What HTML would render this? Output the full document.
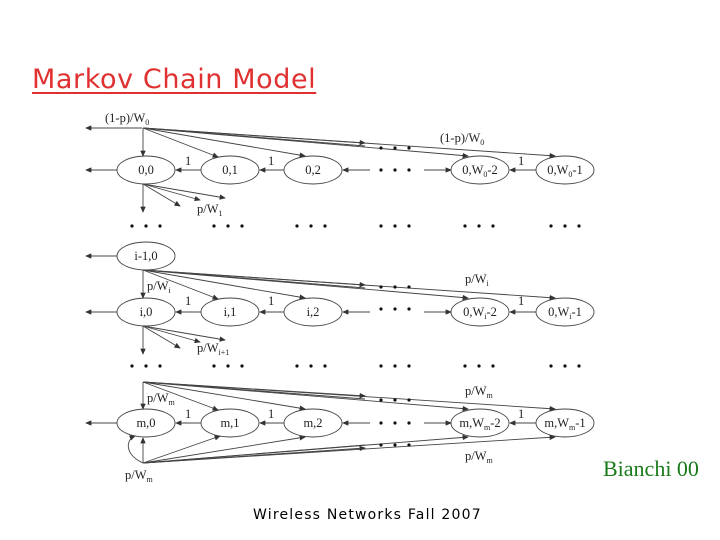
<!DOCTYPE html>
<html><head><meta charset="utf-8"><style>
body{margin:0;width:720px;height:540px;background:#fff;overflow:hidden;position:relative}
.t{position:absolute;left:32px;top:64px;font-family:"DejaVu Sans",sans-serif;font-size:27px;color:#e03030;text-decoration:underline;text-decoration-thickness:2px;text-underline-offset:4px;letter-spacing:0.6px}
.f{position:absolute;left:253px;top:507px;font-family:"DejaVu Sans",sans-serif;font-size:14px;letter-spacing:1.2px;color:#000}
.b{position:absolute;left:603px;top:456px;font-family:"Liberation Serif",serif;font-size:22px;color:#1a7a1a}
</style></head><body>
<div class="t">Markov Chain Model</div>
<svg width="720" height="540" style="position:absolute;left:0;top:0" font-family="Liberation Serif,serif" font-size="12.5">
<defs><marker id="a" markerWidth="7" markerHeight="6" refX="6" refY="3" orient="auto"><path d="M0,0L7,3L0,6z" fill="#333"/></marker>
<g id="d"><circle cx="0" cy="0" r="1.6"/><circle cx="14" cy="0" r="1.6"/><circle cx="28" cy="0" r="1.6"/></g></defs>
<g fill="none" stroke="#444" stroke-width="0.9">
<ellipse cx="146" cy="170" rx="29" ry="14"/><ellipse cx="230" cy="170" rx="29" ry="14"/><ellipse cx="313" cy="170" rx="29" ry="14"/>
<ellipse cx="480" cy="170" rx="29" ry="14"/><ellipse cx="565" cy="170" rx="29" ry="14"/>
<ellipse cx="146" cy="256" rx="29" ry="14"/>
<ellipse cx="146" cy="312" rx="29" ry="14"/><ellipse cx="230" cy="312" rx="29" ry="14"/><ellipse cx="313" cy="312" rx="29" ry="14"/>
<ellipse cx="480" cy="312" rx="29" ry="14"/><ellipse cx="565" cy="312" rx="29" ry="14"/>
<ellipse cx="146" cy="423" rx="29" ry="14"/><ellipse cx="230" cy="423" rx="29" ry="14"/><ellipse cx="313" cy="423" rx="29" ry="14"/>
<ellipse cx="480" cy="423" rx="29" ry="14"/><ellipse cx="565" cy="423" rx="29" ry="14"/>
<g marker-end="url(#a)">
<path d="M142,128H86"/><path d="M117,170H86"/><path d="M117,256H86"/><path d="M117,312H86"/><path d="M117,423H86"/>
<path d="M201,170H176"/><path d="M284,170H260"/><path d="M370,170H343"/><path d="M424,170H451"/><path d="M536,170H510"/>
<path d="M201,312H176"/><path d="M284,312H260"/><path d="M370,312H343"/><path d="M424,312H451"/><path d="M536,312H510"/>
<path d="M201,423H176"/><path d="M284,423H260"/><path d="M370,423H343"/><path d="M424,423H451"/><path d="M536,423H510"/>
<path d="M143,128V156"/><path d="M143,128L218,157"/><path d="M143,128L305,156"/><path d="M143,128L468,156"/><path d="M143,128L555,156"/><path d="M143,128L365,143"/>
<path d="M143,184V212"/><path d="M143,184L180,206"/><path d="M143,184L200,200"/><path d="M143,184L225,198"/>
<path d="M143,270V298"/><path d="M143,270L218,299"/><path d="M143,270L305,298"/><path d="M143,270L468,298"/><path d="M143,270L555,298"/><path d="M143,270L365,285"/>
<path d="M143,326V354"/><path d="M143,326L180,348"/><path d="M143,326L200,342"/><path d="M143,326L225,340"/>
<path d="M143,382V409"/><path d="M143,382L218,410"/><path d="M143,382L305,409"/><path d="M143,382L468,409"/><path d="M143,382L555,409"/><path d="M143,382L365,396"/>
<path d="M143,463V438"/><path d="M143,463L220,436"/><path d="M143,463L305,437"/><path d="M143,463L468,437"/><path d="M143,463L555,437"/><path d="M143,463L365,448"/>
<path d="M143,463C125,455 125,440 135,436"/>
</g>
<path d="M143,128L365,146"/><path d="M143,270L365,288"/><path d="M143,382L365,399"/><path d="M143,463L365,445"/>
</g>
<g fill="#222">
<text x="146" y="174" text-anchor="middle">0,0</text><text x="230" y="174" text-anchor="middle">0,1</text><text x="313" y="174" text-anchor="middle">0,2</text>
<text x="480" y="174" text-anchor="middle">0,W<tspan font-size="8" dy="3">0</tspan><tspan dy="-3">-2</tspan></text>
<text x="565" y="174" text-anchor="middle">0,W<tspan font-size="8" dy="3">0</tspan><tspan dy="-3">-1</tspan></text>
<text x="146" y="260" text-anchor="middle">i-1,0</text>
<text x="146" y="316" text-anchor="middle">i,0</text><text x="230" y="316" text-anchor="middle">i,1</text><text x="313" y="316" text-anchor="middle">i,2</text>
<text x="480" y="316" text-anchor="middle">0,W<tspan font-size="8" dy="3">i</tspan><tspan dy="-3">-2</tspan></text>
<text x="565" y="316" text-anchor="middle">0,W<tspan font-size="8" dy="3">i</tspan><tspan dy="-3">-1</tspan></text>
<text x="146" y="427" text-anchor="middle">m,0</text><text x="230" y="427" text-anchor="middle">m,1</text><text x="313" y="427" text-anchor="middle">m,2</text>
<text x="480" y="427" text-anchor="middle">m,W<tspan font-size="8" dy="3">m</tspan><tspan dy="-3">-2</tspan></text>
<text x="565" y="427" text-anchor="middle">m,W<tspan font-size="8" dy="3">m</tspan><tspan dy="-3">-1</tspan></text>
<text x="105" y="122">(1-p)/W<tspan font-size="8" dy="3">0</tspan></text>
<text x="440" y="142">(1-p)/W<tspan font-size="8" dy="3">0</tspan></text>
<text x="197" y="213">p/W<tspan font-size="8" dy="3">1</tspan></text>
<text x="147" y="290">p/W<tspan font-size="8" dy="3">i</tspan></text>
<text x="465" y="283">p/W<tspan font-size="8" dy="3">i</tspan></text>
<text x="197" y="352">p/W<tspan font-size="8" dy="3">i+1</tspan></text>
<text x="147" y="402">p/W<tspan font-size="8" dy="3">m</tspan></text>
<text x="465" y="395">p/W<tspan font-size="8" dy="3">m</tspan></text>
<text x="465" y="460">p/W<tspan font-size="8" dy="3">m</tspan></text>
<text x="125" y="479">p/W<tspan font-size="8" dy="3">m</tspan></text>
<text x="185" y="165">1</text><text x="268" y="165">1</text><text x="518" y="165">1</text>
<text x="185" y="305">1</text><text x="268" y="305">1</text><text x="518" y="305">1</text>
<text x="185" y="418">1</text><text x="268" y="418">1</text><text x="518" y="418">1</text>
</g>
<g fill="#111">
<use href="#d" x="381" y="148"/><use href="#d" x="381" y="170"/>
<use href="#d" x="381" y="287"/><use href="#d" x="381" y="309"/>
<use href="#d" x="381" y="400"/><use href="#d" x="381" y="423"/><use href="#d" x="381" y="445"/>
<use href="#d" x="132" y="226"/><use href="#d" x="214" y="226"/><use href="#d" x="297" y="226"/><use href="#d" x="381" y="226"/><use href="#d" x="465" y="226"/><use href="#d" x="551" y="226"/>
<use href="#d" x="132" y="366"/><use href="#d" x="214" y="366"/><use href="#d" x="297" y="366"/><use href="#d" x="381" y="366"/><use href="#d" x="465" y="366"/><use href="#d" x="551" y="366"/>
</g>
</svg>
<div class="b">Bianchi 00</div>
<div class="f">Wireless Networks Fall 2007</div>
</body></html>
